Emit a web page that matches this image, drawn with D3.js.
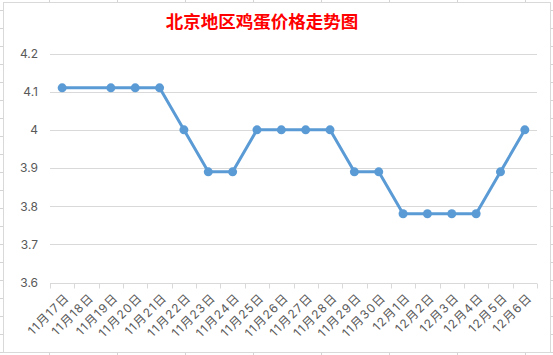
<!DOCTYPE html>
<html>
<head>
<meta charset="utf-8">
<script src="https://cdn.jsdelivr.net/npm/d3@7"></script>
<style>
  body { margin: 0; background: #fff; }
  svg { display: block; }
</style>
</head>
<body>
<div id="container"></div>
<script>
let w = 553;
let h = 355;

// data (11/18 has no marker, line runs straight through)
let days = ['11月17日','11月18日','11月19日','11月20日','11月21日','11月22日','11月23日','11月24日','11月25日','11月26日',
            '11月27日','11月28日','11月29日','11月30日','12月1日','12月2日','12月3日','12月4日','12月5日','12月6日'];
let prices = [4.11, null, 4.11, 4.11, 4.11, 4.0, 3.89, 3.89, 4.0, 4.0,
              4.0, 4.0, 3.89, 3.89, 3.78, 3.78, 3.78, 3.78, 3.89, 4.0];
let yTicks = [3.6, 3.7, 3.8, 3.9, 4.0, 4.1, 4.2];
let title = '北京地区鸡蛋价格走势图';

let viz = d3.select('#container')
  .append('svg')
    .attr('width', w)
    .attr('height', h)
  ;

// spreadsheet cells behind the chart
let sheet = viz.append('g').attr('class', 'sheet');
for (let y = 10; y < h; y += 18) {
  sheet.append('line').attr('x1', 0).attr('x2', w).attr('y1', y + 0.5).attr('y2', y + 0.5)
    .attr('stroke', '#d4d4d4');
}
for (let x = 49; x < w; x += 68) {
  sheet.append('line').attr('x1', x + 0.5).attr('x2', x + 0.5).attr('y1', 0).attr('y2', h)
    .attr('stroke', '#d4d4d4');
}

// chart box
viz.append('rect')
  .attr('x', 3.5).attr('y', 2.5)
  .attr('width', 547).attr('height', 350)
  .attr('fill', '#fff')
  .attr('stroke', '#d9d9d9');

viz.append('text')
  .attr('x', 262).attr('y', 28)
  .attr('text-anchor', 'middle')
  .attr('font-family', '"Noto Sans CJK SC", sans-serif')
  .attr('font-size', 17.5)
  .attr('font-weight', 'bold')
  .attr('fill', '#ff0000')
  .text(title);

let xScale = d3.scaleBand().domain(days).range([50, 537]);
let yScale = d3.scaleLinear().domain([3.6, 4.2]).range([282.5, 53.5]);

// horizontal gridlines
viz.append('g').selectAll('line').data(yTicks.slice(1)).join('line')
  .attr('x1', 50).attr('x2', 537)
  .attr('y1', d => Math.round(yScale(d)) + 0.5)
  .attr('y2', d => Math.round(yScale(d)) + 0.5)
  .attr('stroke', '#d9d9d9');

let yAxis = d3.axisLeft(yScale).tickValues(yTicks).tickSize(0).tickPadding(12)
  .tickFormat(d => d3.format('')(+d.toFixed(1)));
let yAxisGroup = viz.append('g').attr('class', 'yaxis')
  .attr('transform', 'translate(50, 0)')
  .call(yAxis);
yAxisGroup.select('.domain').remove();
yAxisGroup.selectAll('text')
  .attr('font-family', 'Inter, "Noto Sans CJK SC", sans-serif')
  .attr('font-size', 12)
  .attr('fill', '#595959');

// bottom axis with ticks at category boundaries
let xAxisY = Math.round(yScale(3.6)) + 0.5;
let xAxisGroup = viz.append('g').attr('class', 'xaxis');
xAxisGroup.append('line')
  .attr('x1', 50).attr('x2', 537).attr('y1', xAxisY).attr('y2', xAxisY)
  .attr('stroke', '#d9d9d9');
let bounds = days.map(d => xScale(d)).concat([xScale.range()[1]]);
xAxisGroup.selectAll('line.tick').data(bounds).join('line')
  .attr('class', 'tick')
  .attr('x1', d => Math.round(d) + 0.5).attr('x2', d => Math.round(d) + 0.5)
  .attr('y1', xAxisY).attr('y2', xAxisY + 5)
  .attr('stroke', '#d9d9d9');
xAxisGroup.selectAll('text').data(days).join('text')
  .attr('transform', d => 'translate(' + (xScale(d) + xScale.bandwidth() / 2 + 5) + ',' + (xAxisY + 12) + ') rotate(-45)')
  .attr('text-anchor', 'end')
  .attr('dy', '0.35em')
  .attr('font-family', 'Inter, "Noto Sans CJK SC", sans-serif')
  .attr('font-size', 12)
  .attr('letter-spacing', 1.2)
  .attr('fill', '#595959')
  .text(d => d);

let points = days.map((d, i) => ({ day: d, price: prices[i] })).filter(p => p.price != null);
let cx = d => xScale(d.day) + xScale.bandwidth() / 2;

let line = d3.line().x(cx).y(d => yScale(d.price));
viz.append('path')
  .datum(points)
  .attr('d', line)
  .attr('fill', 'none')
  .attr('stroke', '#5b9bd5')
  .attr('stroke-width', 3)
  .attr('stroke-linejoin', 'round');

viz.append('g').selectAll('circle').data(points).join('circle')
  .attr('cx', cx)
  .attr('cy', d => yScale(d.price))
  .attr('r', 4.5)
  .attr('fill', '#5b9bd5');
</script>
</body>
</html>
